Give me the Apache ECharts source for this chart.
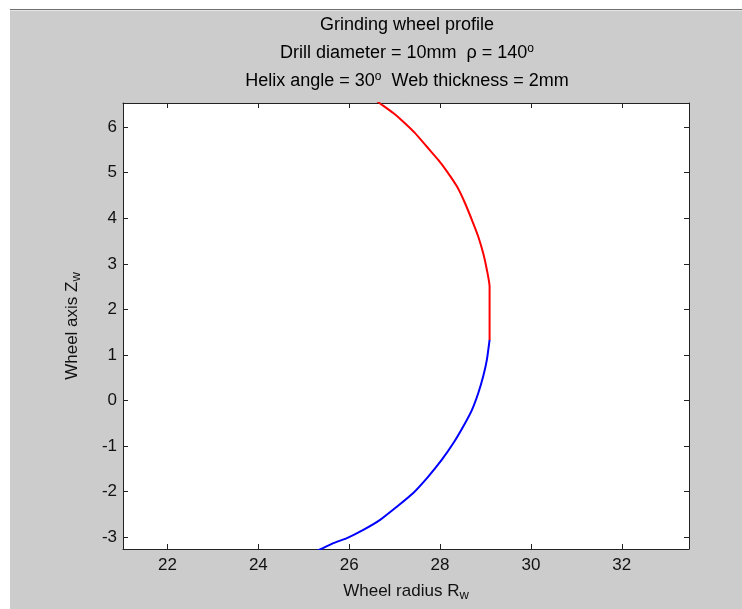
<!DOCTYPE html>
<html>
<head>
<meta charset="utf-8">
<script src="https://cdn.jsdelivr.net/npm/echarts@6/dist/echarts.min.js"></script>
<style>
html,body{margin:0;padding:0;background:#fff;}
#c{width:742px;height:609px;}
</style>
</head>
<body>
<div id="c"></div>
<script>
// Data
const redR  = [26.57, 26.68, 26.97, 27.19, 27.45, 27.71, 27.96, 28.15, 28.37, 28.55, 28.73, 28.84, 28.95, 29.03, 29.09, 29.09];
const redZ  = [6.60, 6.52, 6.31, 6.12, 5.87, 5.57, 5.28, 5.03, 4.70, 4.33, 3.89, 3.60, 3.23, 2.87, 2.50, 1.33];
const blueR = [29.09, 29.03, 28.95, 28.84, 28.70, 28.51, 28.29, 28.04, 27.74, 27.41, 27.05, 26.68, 26.31, 25.95, 25.65, 25.42, 25.29];
const blueZ = [1.33, 0.89, 0.53, 0.16, -0.21, -0.57, -0.94, -1.30, -1.67, -2.03, -2.33, -2.62, -2.84, -3.02, -3.13, -3.24, -3.30];
const xTicks = [22, 24, 26, 28, 30, 32];
const yTicks = [-3, -2, -1, 0, 1, 2, 3, 4, 5, 6];
const xRange = [21.02, 33.48];
const yRange = [-3.26, 6.53];
const titleLines = [
  '{t|Grinding wheel profile}',
  '{t|Drill diameter = 10mm  \u03c1 = 140}{s|o}',
  '{t|Helix angle = 30}{s|o}{t|  Web thickness = 2mm}'
];
const xName = '{a|Wheel radius R}{b|w}';
const yName = '{a|Wheel axis Z}{b|w}';

const FONT = 'Liberation Sans, Arial, Helvetica, sans-serif';
const pair = (a, b) => a.map((v, i) => [v, b[i]]);
const rich = {
  t: {fontSize: 18, fontFamily: FONT, color: '#111'},
  a: {fontSize: 17, fontFamily: FONT, color: '#111'},
  s: {fontSize: 12, fontFamily: FONT, color: '#111', padding: [0, 0, 9, 0]},
  b: {fontSize: 13, fontFamily: FONT, color: '#111', padding: [9, 0, 0, 0]}
};
const axisCommon = {
  type: 'value',
  axisLine: {show: true, onZero: false, lineStyle: {color: '#222', width: 1}},
  splitLine: {show: false}
};

const chart = echarts.init(document.getElementById('c'), null, {renderer: 'canvas'});
chart.setOption({
  backgroundColor: '#fff',
  animation: false,
  graphic: [
    {type: 'rect', z: -10, shape: {x: 10, y: 9, width: 732, height: 600}, style: {fill: '#cccccc'}},
    {type: 'rect', z: -9, shape: {x: 10, y: 9, width: 732, height: 1}, style: {fill: '#6e6e6e'}},
    {type: 'rect', z: -9, shape: {x: 10, y: 10, width: 732, height: 1}, style: {fill: '#e6e6e6'}},
    ...titleLines.map((txt, i) => ({
      type: 'text', z: 10,
      style: {x: 407, y: 25 + i * 28, text: txt, rich: rich, align: 'center', verticalAlign: 'middle'}
    }))
  ],
  grid: {left: 123, top: 103, right: 53, bottom: 60, show: true, backgroundColor: '#fff', borderWidth: 0},
  xAxis: [
    Object.assign({}, axisCommon, {
      min: xRange[0], max: xRange[1], position: 'bottom',
      name: xName, nameLocation: 'middle', nameGap: 31, nameTextStyle: {rich: rich},
      axisTick: {show: true, inside: true, length: 5, customValues: xTicks, lineStyle: {color: '#222'}},
      axisLabel: {show: true, customValues: xTicks, fontSize: 17, fontFamily: FONT, color: '#111', margin: 8}
    }),
    Object.assign({}, axisCommon, {
      min: xRange[0], max: xRange[1], position: 'top',
      axisTick: {show: true, inside: true, length: 5, customValues: xTicks, lineStyle: {color: '#222'}},
      axisLabel: {show: false}
    })
  ],
  yAxis: [
    Object.assign({}, axisCommon, {
      min: yRange[0], max: yRange[1], position: 'left',
      name: yName, nameLocation: 'middle', nameGap: 40, nameRotate: 90, nameTextStyle: {rich: rich},
      axisTick: {show: true, inside: true, length: 5, customValues: yTicks, lineStyle: {color: '#222'}},
      axisLabel: {show: true, customValues: yTicks, fontSize: 17, fontFamily: FONT, color: '#111', margin: 6}
    }),
    Object.assign({}, axisCommon, {
      min: yRange[0], max: yRange[1], position: 'right',
      axisTick: {show: true, inside: true, length: 5, customValues: yTicks, lineStyle: {color: '#222'}},
      axisLabel: {show: false}
    })
  ],
  series: [
    {type: 'line', xAxisIndex: 0, yAxisIndex: 0, data: pair(redR, redZ), showSymbol: false, smooth: 0.2,
     lineStyle: {color: '#ff0000', width: 2}, clip: true},
    {type: 'line', xAxisIndex: 0, yAxisIndex: 0, data: pair(blueR, blueZ), showSymbol: false, smooth: 0.2,
     lineStyle: {color: '#0000ff', width: 2}, clip: true}
  ]
});
</script>
</body>
</html>
